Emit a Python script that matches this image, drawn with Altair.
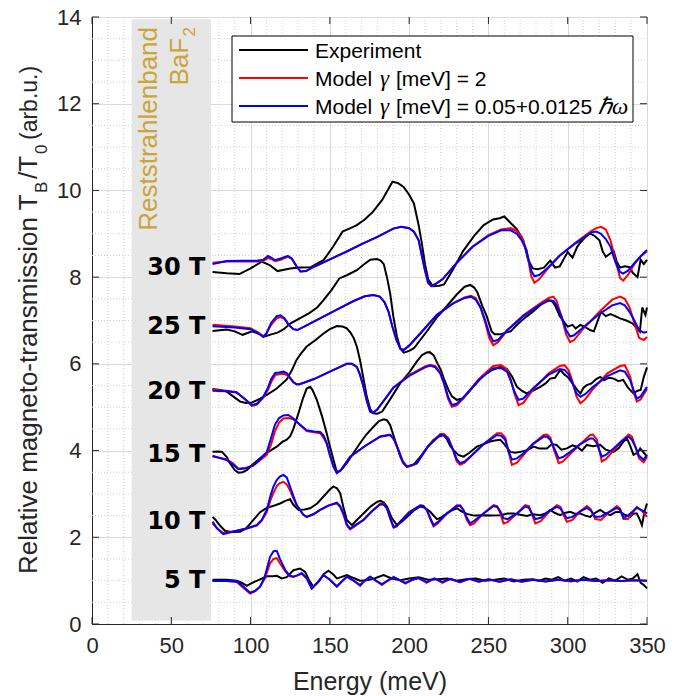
import altair as alt
import pandas as pd

W, H = 555, 607

# ---------------- data ----------------
fields = ["30 T", "25 T", "20 T", "15 T", "10 T", "5 T"]
label_y = [8.21, 6.84, 5.36, 3.90, 2.36, 1.00]

# 30 T
e_exp_30 = [76, 85, 93, 100, 107, 112, 117, 125, 131, 138, 146, 152, 158, 163, 167, 172, 177, 183, 189.5, 193,
            196.5, 200, 203, 206, 208, 210, 212, 215, 219, 222, 228, 234, 241, 247, 253, 257, 260, 264, 268, 272,
            275, 278, 281, 285, 289, 292, 295, 298, 300, 303, 306, 308, 311, 314, 317, 320, 322, 324, 327, 329,
            331, 333, 336, 339, 341, 344, 346, 348, 350]
v_exp_30 = [8.12, 8.09, 8.07, 8.20, 8.36, 8.28, 8.14, 8.20, 8.22, 8.23, 8.39, 8.70, 9.05, 9.13, 9.20, 9.33, 9.50, 9.78, 10.20, 10.17,
            10.08, 9.90, 9.70, 9.20, 8.78, 8.30, 7.95, 7.79, 7.80, 7.83, 8.20, 8.60, 8.95, 9.20, 9.33, 9.36, 9.40, 9.25, 9.10, 8.85,
            8.40, 8.20, 8.18, 8.22, 8.38, 8.22, 8.25, 8.45, 8.58, 8.45, 8.70, 8.80, 8.92, 9.01, 8.95, 8.85, 8.60, 8.47, 8.55, 8.60,
            8.35, 8.22, 8.25, 8.23, 8.10, 8.00, 8.40, 8.30, 8.40]
e_mod_30 = [76, 85, 95, 104, 108, 111, 113, 115.5, 119, 123.5, 126, 129, 131.5, 135, 140, 150, 160, 170, 180, 190,
            195, 200, 203, 206, 208, 210, 212, 214, 217, 221, 230, 240, 250, 258, 264, 268, 271, 274, 277, 279,
            282, 287, 295, 305, 315, 318, 321, 324, 327, 330, 333, 335, 338, 342, 346, 350]
v_blue_30 = [8.30, 8.37, 8.38, 8.38, 8.40, 8.49, 8.45, 8.39, 8.43, 8.49, 8.43, 8.25, 8.13, 8.14, 8.24, 8.41, 8.58, 8.76, 8.93, 9.12,
             9.16, 9.13, 9.05, 8.85, 8.50, 8.15, 7.87, 7.80, 7.85, 7.95, 8.33, 8.70, 8.95, 9.08, 9.08, 9.00, 8.85, 8.62, 8.15, 8.02,
             8.05, 8.20, 8.50, 8.78, 9.03, 9.05, 9.00, 8.88, 8.70, 8.35, 8.12, 8.08, 8.15, 8.32, 8.48, 8.63]
v_red_30 = [8.33, 8.36, 8.36, 8.36, 8.38, 8.44, 8.42, 8.37, 8.40, 8.47, 8.42, 8.25, 8.13, 8.14, 8.24, 8.41, 8.58, 8.76, 8.93, 9.12,
            9.16, 9.13, 9.05, 8.85, 8.50, 8.15, 7.86, 7.79, 7.85, 7.95, 8.33, 8.70, 8.97, 9.10, 9.13, 9.06, 8.93, 8.62, 8.02, 7.87,
            7.95, 8.18, 8.50, 8.80, 9.07, 9.13, 9.16, 9.10, 8.85, 8.40, 7.98, 7.92, 8.05, 8.30, 8.48, 8.60]

# 25 T
e_exp_25 = [76, 85, 90, 95, 101, 106, 109, 113, 117, 121, 125, 131, 137, 142, 146, 151, 156, 161, 167, 171,
            175.5, 179.7, 182, 184, 186, 188, 190, 192.3, 194.5, 196.6, 200, 203, 207, 211, 217, 223, 230, 235, 238.5, 241,
            243, 246, 249, 252, 254, 257.5, 261, 264, 268, 271, 274, 278, 281, 284, 287, 290, 292, 295, 298, 300,
            303, 305, 308, 311, 314, 316.5, 319, 321, 324, 327, 330, 333, 337, 341, 344, 345.5, 347, 349, 350]
v_exp_25 = [6.76, 6.79, 6.75, 6.67, 6.75, 6.68, 6.63, 6.68, 6.72, 6.80, 6.93, 7.05, 7.17, 7.30, 7.47, 7.70, 7.97, 8.05, 8.16, 8.28,
            8.40, 8.42, 8.38, 8.30, 8.00, 7.63, 7.10, 6.63, 6.35, 6.26, 6.30, 6.36, 6.55, 6.74, 7.05, 7.30, 7.60, 7.78, 7.82, 7.76,
            7.65, 7.35, 7.09, 6.75, 6.68, 6.68, 6.72, 6.75, 6.90, 7.00, 7.09, 7.20, 7.30, 7.40, 7.47, 7.45, 7.35, 7.10, 6.95, 6.86,
            6.90, 6.82, 6.90, 6.85, 6.78, 6.75, 7.00, 7.20, 7.10, 7.15, 7.10, 7.05, 7.00, 6.93, 6.80, 6.74, 7.30, 7.13, 7.30]
e_mod_25 = [76, 90, 100, 105, 108, 110, 113, 116.5, 119, 121.5, 124, 127, 129.5, 135, 145, 155, 165, 172, 177.5, 181.5,
            184.5, 187, 189.5, 192, 194.5, 196.5, 200, 207, 217.5, 228, 235, 239, 242, 245, 248, 250.5, 253, 256, 262, 272,
            282, 288, 291, 293, 296, 299, 301.5, 304, 310, 320, 328, 333, 336, 339, 342, 345, 348, 350]
v_blue_25 = [6.87, 6.84, 6.80, 6.70, 6.62, 6.70, 6.95, 7.10, 7.12, 7.05, 6.90, 6.80, 6.78, 6.88, 7.07, 7.26, 7.45, 7.56, 7.59, 7.55,
             7.42, 7.20, 6.85, 6.55, 6.35, 6.32, 6.42, 6.70, 7.13, 7.40, 7.52, 7.55, 7.48, 7.30, 7.00, 6.70, 6.52, 6.55, 6.78, 7.10,
             7.35, 7.46, 7.45, 7.35, 7.10, 6.78, 6.63, 6.66, 6.85, 7.15, 7.35, 7.40, 7.35, 7.20, 7.00, 6.78, 6.72, 6.74]
v_red_25 = [6.90, 6.86, 6.82, 6.72, 6.63, 6.70, 6.90, 7.05, 7.08, 7.03, 6.90, 6.80, 6.78, 6.88, 7.07, 7.26, 7.45, 7.56, 7.59, 7.55,
            7.42, 7.20, 6.85, 6.55, 6.35, 6.32, 6.42, 6.70, 7.13, 7.40, 7.53, 7.57, 7.52, 7.30, 6.95, 6.60, 6.43, 6.50, 6.78, 7.12,
            7.38, 7.52, 7.55, 7.45, 7.10, 6.68, 6.50, 6.55, 6.82, 7.20, 7.48, 7.55, 7.50, 7.30, 6.95, 6.60, 6.55, 6.62]

# 20 T
e_exp_20 = [76, 81, 85, 89, 93.4, 97, 101, 106, 110, 116.5, 122.8, 126, 129, 132, 135.4, 141, 146, 150, 154.4, 158,
            160.7, 163, 165, 167, 169, 171, 173.3, 175.5, 177.5, 180, 183, 188, 194.3, 200, 204.8, 208, 211, 213, 215.4, 218,
            220, 222, 224.8, 227, 230, 234, 240, 247, 252, 257.5, 261.7, 265, 268, 271, 274, 278, 282.7, 286, 289, 292,
            295.3, 298, 300, 303, 306, 308, 310, 312, 315, 318, 320.5, 323, 326, 329, 332, 335, 338, 341.5, 344, 346,
            348, 350]
v_exp_20 = [5.42, 5.40, 5.36, 5.25, 5.13, 5.10, 5.11, 5.20, 5.28, 5.43, 5.64, 5.85, 6.09, 6.25, 6.40, 6.55, 6.70, 6.80, 6.87, 6.86,
            6.82, 6.72, 6.60, 6.40, 6.09, 5.70, 5.24, 4.95, 4.86, 4.85, 4.90, 5.18, 5.55, 5.80, 6.05, 6.20, 6.26, 6.27, 6.20, 6.00,
            5.86, 5.65, 5.40, 5.25, 5.17, 5.20, 5.45, 5.74, 5.85, 5.93, 5.88, 5.70, 5.47, 5.38, 5.32, 5.38, 5.47, 5.55, 5.66, 5.68,
            5.86, 5.75, 5.70, 5.55, 5.40, 5.32, 5.45, 5.51, 5.55, 5.65, 5.70, 5.62, 5.68, 5.66, 5.60, 5.63, 5.45, 5.32, 5.38, 5.40,
            5.70, 5.92]
e_mod_20 = [76, 85, 91, 96, 100.8, 104, 108, 111, 113, 115.5, 118, 120.7, 123, 125, 127, 129, 131, 140, 150, 160.7,
            164, 167, 169, 171.2, 173.3, 175.4, 177, 179.7, 185, 190, 200, 210, 213.3, 216.5, 219.6, 222, 224.5, 227, 230, 234,
            244, 253, 258, 261.7, 264, 266.5, 269, 272, 278.5, 288, 295, 298, 300.6, 303, 305.5, 308, 311, 316, 325, 333,
            336, 339.4, 341.5, 343.6, 346, 350]
v_blue_20 = [5.38, 5.37, 5.34, 5.20, 5.05, 5.08, 5.24, 5.45, 5.65, 5.79, 5.80, 5.82, 5.78, 5.68, 5.58, 5.53, 5.53, 5.65, 5.82, 6.00,
             6.00, 5.93, 5.75, 5.47, 5.15, 4.90, 4.87, 4.94, 5.20, 5.45, 5.72, 5.92, 5.96, 5.92, 5.78, 5.55, 5.25, 5.05, 5.08, 5.22,
             5.63, 5.90, 5.90, 5.82, 5.62, 5.35, 5.17, 5.20, 5.45, 5.75, 5.88, 5.86, 5.76, 5.55, 5.32, 5.24, 5.30, 5.47, 5.72, 5.85,
             5.82, 5.62, 5.40, 5.20, 5.25, 5.47]
v_red_20 = [5.40, 5.38, 5.35, 5.20, 5.03, 5.06, 5.22, 5.40, 5.58, 5.74, 5.76, 5.77, 5.74, 5.66, 5.57, 5.53, 5.53, 5.65, 5.82, 6.00,
            6.00, 5.93, 5.75, 5.47, 5.15, 4.90, 4.87, 4.94, 5.20, 5.45, 5.74, 5.94, 5.98, 5.95, 5.80, 5.55, 5.20, 5.01, 5.04, 5.20,
            5.65, 5.95, 5.97, 5.88, 5.65, 5.30, 5.05, 5.10, 5.42, 5.78, 5.95, 5.97, 5.85, 5.60, 5.25, 5.09, 5.18, 5.42, 5.78, 5.95,
            5.97, 5.70, 5.35, 5.13, 5.18, 5.42]

# 15 T
e_exp_15 = [76, 80, 82, 85, 87, 90, 92.3, 95, 97.6, 102, 106, 110, 116.5, 120, 122.8, 125, 127, 130.2, 133, 135.4,
            137.6, 139, 141.8, 145, 148, 150, 152.3, 154.4, 157, 160.7, 165, 169, 173, 177.5, 181, 184, 186, 188, 191, 194.4,
            197, 198.6, 202.8, 208, 212, 215.4, 219, 221.7, 224, 226, 228, 231, 234.3, 238, 242.7, 247, 251, 254, 257.5, 260,
            263.8, 267, 270, 274, 278.5, 282, 286.9, 290, 293, 296, 299.5, 303, 305.8, 309, 312, 316, 320.5, 324, 328.9, 332,
            335, 337.3, 339, 341.5, 344, 345.7, 348, 350]
v_exp_15 = [3.97, 3.98, 3.97, 3.85, 3.71, 3.55, 3.49, 3.50, 3.55, 3.70, 3.82, 3.94, 4.09, 4.20, 4.25, 4.33, 4.50, 4.86, 5.20, 5.43,
            5.47, 5.40, 5.17, 4.80, 4.40, 4.10, 3.79, 3.50, 3.55, 3.71, 3.95, 4.17, 4.37, 4.55, 4.68, 4.72, 4.70, 4.59, 4.25, 3.86,
            3.68, 3.63, 3.67, 3.90, 4.10, 4.25, 4.33, 4.36, 4.25, 4.10, 4.01, 3.90, 3.86, 3.95, 4.09, 4.15, 4.21, 4.23, 4.25, 4.15,
            3.97, 3.95, 3.97, 4.00, 4.09, 4.05, 4.05, 4.15, 4.13, 4.02, 4.05, 4.12, 4.09, 4.00, 4.13, 4.10, 4.13, 4.02, 3.97, 4.05,
            4.20, 4.28, 4.15, 3.90, 3.95, 4.05, 3.95, 3.86]
e_mod_15 = [76, 85, 89, 92.3, 97, 101.8, 106, 110.2, 113, 115.4, 118, 120.7, 123.8, 127, 131, 135.4, 140, 143.9, 146, 148.1,
            150, 152.3, 154.4, 157, 162.8, 172, 181.8, 188.1, 190.5, 193.3, 196, 198.6, 204.8, 212, 219.6, 222, 224.9, 228, 230, 232.2,
            235, 238.5, 247, 255.4, 258, 260.6, 262.5, 264.8, 268, 272.2, 278, 284.8, 287, 289, 291.5, 294.3, 297, 301.6, 308, 314.2,
            316, 318.4, 320, 321.5, 324, 328.9, 334, 338.4, 340.5, 342.6, 345, 347.9, 350]
v_blue_15 = [3.88, 3.78, 3.68, 3.57, 3.59, 3.66, 3.80, 3.96, 4.30, 4.60, 4.75, 4.81, 4.82, 4.74, 4.60, 4.47, 4.44, 4.43, 4.35, 4.17,
             3.90, 3.63, 3.48, 3.55, 3.86, 4.10, 4.32, 4.36, 4.25, 4.01, 3.75, 3.63, 3.71, 4.10, 4.36, 4.35, 4.25, 4.00, 3.80, 3.71,
             3.75, 3.86, 4.15, 4.36, 4.34, 4.25, 4.00, 3.79, 3.82, 3.94, 4.15, 4.32, 4.32, 4.25, 4.05, 3.82, 3.85, 3.97, 4.15, 4.28,
             4.28, 4.17, 4.00, 3.86, 3.90, 4.05, 4.22, 4.32, 4.25, 4.09, 3.88, 3.79, 3.90]
v_red_15 = [3.86, 3.80, 3.70, 3.58, 3.60, 3.66, 3.78, 3.90, 4.15, 4.45, 4.65, 4.74, 4.75, 4.72, 4.60, 4.45, 4.42, 4.40, 4.30, 4.15,
            3.90, 3.63, 3.48, 3.55, 3.86, 4.10, 4.33, 4.37, 4.25, 4.00, 3.72, 3.62, 3.70, 4.10, 4.38, 4.38, 4.28, 3.97, 3.75, 3.67,
            3.72, 3.85, 4.15, 4.40, 4.40, 4.30, 4.00, 3.67, 3.72, 3.90, 4.15, 4.36, 4.37, 4.30, 4.00, 3.71, 3.75, 3.92, 4.15, 4.36,
            4.37, 4.25, 4.00, 3.75, 3.80, 4.00, 4.22, 4.37, 4.32, 4.10, 3.82, 3.73, 3.85]

# 10 T
e_exp_10 = [76, 78, 80, 83.8, 88, 93.4, 97, 101.8, 106, 110.2, 114, 118.6, 122, 124.9, 127, 130.2, 134, 137.6, 142, 146,
            150, 152.3, 154.5, 156.5, 158.5, 160.7, 163.9, 167, 171.2, 176, 180, 182, 184, 186, 189, 192.3, 195, 198.6, 203, 207,
            210, 213.3, 217.5, 220, 223.8, 227, 230.1, 233, 236.4, 241, 246.9, 252, 257.5, 262, 265.9, 270, 274.3, 278, 282.7, 286,
            289, 292, 295.3, 298, 301.6, 305, 307.9, 311, 314.2, 317, 320.5, 323, 326.8, 330, 333.1, 336, 339.4, 341.5, 343.6, 345.5,
            346.8, 348.5, 350]
v_exp_10 = [2.47, 2.40, 2.30, 2.15, 2.12, 2.13, 2.20, 2.40, 2.58, 2.68, 2.72, 2.78, 2.84, 2.88, 2.75, 2.63, 2.64, 2.67, 2.78, 2.94,
            3.10, 3.17, 3.13, 3.02, 2.70, 2.40, 2.28, 2.40, 2.55, 2.72, 2.82, 2.84, 2.80, 2.71, 2.45, 2.28, 2.35, 2.47, 2.62, 2.71,
            2.68, 2.59, 2.42, 2.45, 2.55, 2.62, 2.67, 2.60, 2.54, 2.50, 2.51, 2.50, 2.51, 2.55, 2.55, 2.52, 2.49, 2.53, 2.51, 2.55,
            2.63, 2.56, 2.51, 2.56, 2.59, 2.54, 2.55, 2.50, 2.47, 2.56, 2.63, 2.57, 2.51, 2.58, 2.59, 2.52, 2.47, 2.55, 2.55, 2.40,
            2.28, 2.60, 2.78]
e_mod_10 = [76, 79, 82.8, 88, 93.4, 98, 103.9, 107, 110.2, 112.5, 114.4, 116.5, 118.5, 120.7, 122.8, 124.9, 127, 129, 131.2, 133.3,
            135.4, 139.6, 143.9, 149, 154.4, 156.5, 158.6, 160.7, 162.8, 166, 171.2, 176.5, 181.8, 184, 186, 188, 190.2, 192.3, 194.4, 200,
            207, 209, 211.2, 213.3, 215.4, 218, 223.8, 230.1, 232.2, 234.3, 236.4, 238.5, 241, 246.9, 253.2, 255.5, 257.5, 259.5, 262, 268,
            273.2, 275.5, 277.5, 279.6, 283, 289, 293.2, 295.5, 297.5, 299.5, 303, 307.9, 312.1, 314.5, 317.4, 321, 326.8, 331, 333, 335.2,
            338, 343.6, 347, 350]
v_blue_10 = [2.36, 2.20, 2.07, 2.12, 2.17, 2.21, 2.28, 2.40, 2.63, 2.95, 3.17, 3.32, 3.40, 3.44, 3.38, 3.17, 2.95, 2.75, 2.63, 2.52,
             2.47, 2.53, 2.63, 2.73, 2.80, 2.72, 2.55, 2.30, 2.20, 2.28, 2.40, 2.60, 2.76, 2.75, 2.67, 2.45, 2.24, 2.27, 2.36, 2.57,
             2.73, 2.72, 2.63, 2.45, 2.28, 2.35, 2.55, 2.72, 2.72, 2.63, 2.45, 2.32, 2.38, 2.55, 2.72, 2.70, 2.60, 2.44, 2.42, 2.55,
             2.71, 2.68, 2.55, 2.42, 2.45, 2.62, 2.70, 2.66, 2.55, 2.44, 2.47, 2.60, 2.68, 2.62, 2.47, 2.48, 2.60, 2.68, 2.63, 2.45,
             2.50, 2.68, 2.62, 2.55]
v_red_10 = [2.32, 2.20, 2.10, 2.13, 2.17, 2.21, 2.27, 2.38, 2.58, 2.85, 3.02, 3.18, 3.25, 3.28, 3.22, 3.08, 2.90, 2.75, 2.63, 2.52,
            2.47, 2.53, 2.63, 2.73, 2.78, 2.70, 2.52, 2.27, 2.18, 2.26, 2.40, 2.60, 2.78, 2.77, 2.67, 2.43, 2.22, 2.25, 2.36, 2.58,
            2.74, 2.73, 2.62, 2.42, 2.25, 2.32, 2.55, 2.74, 2.74, 2.62, 2.40, 2.28, 2.32, 2.55, 2.74, 2.72, 2.55, 2.32, 2.35, 2.55,
            2.74, 2.72, 2.52, 2.32, 2.37, 2.62, 2.74, 2.70, 2.50, 2.36, 2.40, 2.60, 2.72, 2.65, 2.42, 2.40, 2.60, 2.72, 2.66, 2.42,
            2.42, 2.70, 2.60, 2.47]

# 5 T
e_exp_5 = [76, 85, 91.3, 95, 97.6, 101, 106, 110.3, 114, 116.5, 119.7, 122.8, 127, 131.2, 134.4, 137, 139.6, 143, 146, 149.1,
           152, 154.4, 157, 160.7, 165, 169, 173.3, 178, 183.9, 189, 194.4, 200, 206, 212, 218, 224, 230, 236, 242, 248,
           254, 260, 266, 272, 278, 282, 286, 290, 294, 298, 302, 306, 310, 314, 318, 322, 326, 330, 334, 338,
           341, 344, 346, 348, 350]
v_exp_5 = [1.02, 1.02, 1.00, 0.94, 0.88, 0.95, 1.03, 1.10, 1.10, 1.11, 1.05, 1.08, 1.24, 1.28, 1.20, 1.00, 0.86, 0.98, 1.15, 1.23,
           1.15, 1.05, 1.08, 1.13, 1.06, 1.00, 1.01, 1.05, 1.13, 1.05, 1.01, 1.05, 1.08, 1.02, 1.03, 1.05, 1.00, 1.03, 1.05, 1.00,
           1.02, 1.05, 0.98, 1.02, 1.03, 1.00, 1.05, 1.02, 1.08, 1.00, 1.05, 0.98, 1.08, 1.02, 1.05, 0.95, 1.05, 1.00, 1.10, 1.02,
           1.05, 1.15, 0.95, 0.90, 0.82]
e_mod_5 = [76, 85, 91.3, 95, 99.7, 103, 106, 109, 112.3, 114.5, 116.5, 118.5, 121.8, 124.5, 127, 129.5, 132.3, 135.5, 138.6, 142,
           146, 150, 154.4, 157.5, 160.7, 165, 169.1, 172, 175.4, 179, 182.8, 186.5, 190.2, 194, 197.6, 202, 206, 211, 216, 221,
           226, 232, 238, 244, 250, 257, 264, 271, 278, 286, 294, 302, 310, 318, 326, 334, 342, 350]
v_blue_5 = [0.99, 0.99, 0.98, 0.88, 0.72, 0.77, 0.86, 1.10, 1.55, 1.68, 1.69, 1.50, 1.25, 1.12, 1.09, 1.12, 1.17, 1.05, 0.82, 0.95,
            1.13, 1.02, 0.87, 0.98, 1.09, 1.00, 0.90, 1.00, 1.09, 1.00, 0.92, 1.00, 1.08, 1.01, 0.95, 1.02, 1.06, 0.97, 1.05, 0.97,
            1.04, 0.97, 1.04, 0.98, 1.03, 0.98, 1.03, 0.98, 1.02, 0.98, 1.02, 0.99, 1.02, 0.99, 1.01, 0.99, 1.01, 1.00]
v_red_5 = [0.99, 0.99, 0.97, 0.85, 0.70, 0.76, 0.86, 1.05, 1.40, 1.50, 1.52, 1.40, 1.22, 1.10, 1.09, 1.12, 1.17, 1.05, 0.82, 0.95,
           1.13, 1.02, 0.86, 0.98, 1.09, 1.00, 0.88, 1.00, 1.09, 1.00, 0.90, 1.00, 1.08, 1.01, 0.93, 1.02, 1.06, 0.95, 1.05, 0.95,
           1.04, 0.96, 1.04, 0.97, 1.03, 0.97, 1.03, 0.97, 1.02, 0.98, 1.02, 0.98, 1.02, 0.99, 1.01, 0.99, 1.01, 1.00]

x_major = [0, 50, 100, 150, 200, 250, 300, 350]
y_major = [0, 2, 4, 6, 8, 10, 12, 14]
x_minor = [v for v in range(10, 350, 10) if v % 50 != 0]
y_minor = [v / 2 for v in range(1, 28) if v % 4 != 0]
band = {"x1": [25], "x2": [75], "y1": [0.08], "y2": [13.95]}

legend_colors = ["#000000", "#ff0000", "#0000ff"]

# ---------------- build frames ----------------
def frame(e, v, f):
    return pd.DataFrame({"E": e, "v": v, "field": f, "i": list(range(len(e)))})

exp_df = pd.concat([frame(e_exp_30, v_exp_30, "30 T"), frame(e_exp_25, v_exp_25, "25 T"),
                    frame(e_exp_20, v_exp_20, "20 T"), frame(e_exp_15, v_exp_15, "15 T"),
                    frame(e_exp_10, v_exp_10, "10 T"), frame(e_exp_5, v_exp_5, "5 T")])
red_df = pd.concat([frame(e_mod_30, v_red_30, "30 T"), frame(e_mod_25, v_red_25, "25 T"),
                    frame(e_mod_20, v_red_20, "20 T"), frame(e_mod_15, v_red_15, "15 T"),
                    frame(e_mod_10, v_red_10, "10 T"), frame(e_mod_5, v_red_5, "5 T")])
blue_df = pd.concat([frame(e_mod_30, v_blue_30, "30 T"), frame(e_mod_25, v_blue_25, "25 T"),
                     frame(e_mod_20, v_blue_20, "20 T"), frame(e_mod_15, v_blue_15, "15 T"),
                     frame(e_mod_10, v_blue_10, "10 T"), frame(e_mod_5, v_blue_5, "5 T")])

FONT = "Liberation Sans"
SERIF = "Liberation Serif"
AX = "#262626"
xs = alt.Scale(domain=[0, 350], nice=False, zero=False)
ys = alt.Scale(domain=[0, 14], nice=False, zero=False)
x_axis = alt.Axis(values=x_major, grid=True, gridColor="#dadada", gridWidth=1, ticks=False,
                  labelFont=FONT, labelFontSize=22, labelColor=AX, labelPadding=11, labelFlush=False,
                  labelOverlap=False, domainColor=AX, title="Energy (meV)", titleFont=FONT,
                  titleFontSize=25, titleFontWeight="normal", titleColor=AX,
                  titleBaseline="alphabetic", titleY=65)
y_axis = alt.Axis(values=y_major, grid=True, gridColor="#dadada", gridWidth=1, ticks=False,
                  labelFont=FONT, labelFontSize=22, labelColor=AX, labelPadding=11, labelFlush=False,
                  labelOverlap=False, domainColor=AX, title=None)


def X(f):
    return alt.X(f, scale=xs, axis=x_axis)


def Y(f):
    return alt.Y(f, scale=ys, axis=y_axis)


one = pd.DataFrame({"a": [0]})
layers = []

# minor grid
layers.append(alt.Chart(pd.DataFrame({"g": x_minor})).mark_rule(
    color="#cfcfcf", strokeDash=[1, 2], strokeWidth=1).encode(
    x=X("g:Q"), y=alt.value(0), y2=alt.value(H)))
layers.append(alt.Chart(pd.DataFrame({"g": y_minor})).mark_rule(
    color="#cfcfcf", strokeDash=[1, 2], strokeWidth=1).encode(
    y=Y("g:Q"), x=alt.value(0), x2=alt.value(W)))

# Reststrahlenband area
layers.append(alt.Chart(pd.DataFrame(band)).mark_rect(color="#e6e6e6").encode(
    x=X("x1:Q"), x2="x2:Q", y=Y("y1:Q"), y2="y2:Q"))

# curves
for df, col in [(exp_df, "#000000"), (red_df, "#ff0000"), (blue_df, "#0000ff")]:
    layers.append(alt.Chart(df).mark_line(color=col, strokeWidth=2).encode(
        x=X("E:Q"), y=Y("v:Q"), detail="field:N", order="i:Q"))

# field labels
lab_df = pd.DataFrame({"label": fields, "y": label_y, "x": [71.5] * len(fields)})
layers.append(alt.Chart(lab_df).mark_text(
    align="right", baseline="middle", font="DejaVu Sans", fontWeight="bold", fontSize=24,
    color="#000000").encode(x=X("x:Q"), y=Y("y:Q"), text="label:N"))

# Reststrahlenband text
GOLD = "#c9a53a"
layers.append(alt.Chart(pd.DataFrame({"x": [41.0], "y": [13.77]})).mark_text(
    text="Reststrahlenband", angle=270, align="right", baseline="alphabetic",
    font=FONT, fontSize=26, color=GOLD).encode(x=X("x:Q"), y=Y("y:Q")))
layers.append(alt.Chart(pd.DataFrame({"x": [60.6], "y": [13.52]})).mark_text(
    text="BaF", angle=270, align="right", baseline="alphabetic", font=FONT, fontSize=26, color=GOLD).encode(
    x=X("x:Q"), y=Y("y:Q")))
layers.append(alt.Chart(pd.DataFrame({"x": [65.0], "y": [13.77]})).mark_text(
    text="2", angle=270, align="right", baseline="alphabetic", font=FONT, fontSize=17, color=GOLD).encode(
    x=X("x:Q"), y=Y("y:Q")))

# legend (drawn by hand, Matlab style)
layers.append(alt.Chart(one).mark_rect(fill="white", stroke="#000000", strokeWidth=1).encode(
    x=alt.value(140), x2=alt.value(541), y=alt.value(19), y2=alt.value(105)))
legend_pieces = [
    [("Experiment", 223, FONT, "normal", 21)],
    [("Model", 223, FONT, "normal", 21), ("\u03b3", 288, SERIF, "italic", 23),
     ("[meV] = 2", 304, FONT, "normal", 21)],
    [("Model", 223, FONT, "normal", 21), ("\u03b3", 288, SERIF, "italic", 23),
     ("[meV] = 0.05+0.0125", 304, FONT, "normal", 21), ("\u210f\u03c9", 506, SERIF, "italic", 23)],
]
for k, (pieces, col) in enumerate(zip(legend_pieces, legend_colors)):
    yy = 33 + 28 * k
    layers.append(alt.Chart(one).mark_rule(color=col, strokeWidth=2).encode(
        x=alt.value(147), x2=alt.value(216), y=alt.value(yy)))
    for txt, xx, fnt, sty, fs in pieces:
        layers.append(alt.Chart(one).mark_text(text=txt, align="left", baseline="alphabetic", font=fnt,
                                               fontStyle=sty, fontSize=fs, color="#000000").encode(
            x=alt.value(xx), y=alt.value(yy + 8)))

# y axis title with subscripts
ytitle = [("Relative magneto-transmission T", 26, -55, 557),
          ("B", 17, -45, 176),
          ("/T", 26, -55, 162),
          ("0", 17, -45, 137),
          ("\u00a0(arb.u.)", 23, -55, 123)]
for txt, fs, xx, yy in ytitle:
    layers.append(alt.Chart(one).mark_text(text=txt, angle=270, align="left", baseline="alphabetic",
                                           font=FONT, fontSize=fs, color=AX).encode(
        x=alt.value(xx), y=alt.value(yy)))

# inward ticks on all four sides
TL = 7
xt = pd.DataFrame({"t": x_major})
yt = pd.DataFrame({"t": y_major})
layers.append(alt.Chart(xt).mark_rule(color=AX).encode(x=X("t:Q"), y=alt.value(H), y2=alt.value(H - TL)))
layers.append(alt.Chart(xt).mark_rule(color=AX).encode(x=X("t:Q"), y=alt.value(0), y2=alt.value(TL)))
layers.append(alt.Chart(yt).mark_rule(color=AX).encode(y=Y("t:Q"), x=alt.value(0), x2=alt.value(TL)))
layers.append(alt.Chart(yt).mark_rule(color=AX).encode(y=Y("t:Q"), x=alt.value(W), x2=alt.value(W - TL)))

chart = alt.layer(*layers).properties(
    width=W, height=H,
    autosize=alt.AutoSizeParams(type="none"),
    padding={"left": 84, "top": 9, "right": 28, "bottom": 72},
    background="white",
).configure_view(stroke=AX, strokeWidth=1)

chart.save("out.html", embed_options={"renderer": "svg", "actions": False})
